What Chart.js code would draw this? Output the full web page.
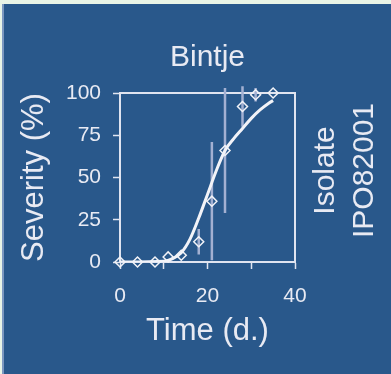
<!DOCTYPE html>
<html>
<head>
<meta charset="utf-8">
<script src="https://cdn.jsdelivr.net/npm/chart.js@4.4.1/dist/chart.umd.min.js"></script>
<style>
  html, body { margin: 0; padding: 0; }
  body { width: 391px; height: 374px; background: #e9f4e6; position: relative; overflow: hidden; }
  #frame { position: absolute; left: 2px; top: 4px; width: 387px; height: 370px; border-left: 2px solid #7c98c0; background: #29588b; }
  #c { display: block; }
</style>
</head>
<body>
<div id="frame"><canvas id="c" width="387" height="370"></canvas></div>
<script>
// observed severity (%) per day, with error bar half-widths
const obsDays = [0, 4, 8, 11, 14, 18, 21, 24, 28, 31, 35];
const obsSeverity = [0, 0, 0, 3, 4, 12, 36, 66, 92, 99, 100];
const obsError = [0, 0, 0, 0, 0, 7.5, 35, 37, 12, 4, 0];

// fitted curve
const fitDays = [0, 10, 12, 14, 16, 18, 20, 22, 24, 26, 28, 30, 32, 34, 35];
const fitSeverity = [0, 0.5, 2, 5.5, 13.5, 26, 40, 54, 66, 73, 79, 85, 90, 94, 95.5];

const xTicks = [0, 20, 40];
const yTicks = [0, 25, 50, 75, 100];

const textColor = '#e8eaf3';
const lineColor = '#f2f3f8';
const barColor = '#a3b0d2';
const family = '"Liberation Sans", Arial, sans-serif';

Chart.defaults.font.family = family;
Chart.defaults.color = textColor;

// error bars as short vertical segments separated by gaps
const errorData = [];
obsDays.forEach((d, i) => {
  if (obsError[i] > 0) {
    errorData.push({ x: d, y: obsSeverity[i] - obsError[i] });
    errorData.push({ x: d, y: obsSeverity[i] + obsError[i] });
    errorData.push({ x: d, y: null });
  }
});

// box round the plot (top and right sides too)
const frameBox = {
  id: 'frameBox',
  beforeDatasetsDraw(chart) {
    const a = chart.chartArea;
    const ctx = chart.ctx;
    ctx.save();
    ctx.strokeStyle = '#e0e4f0';
    ctx.lineWidth = 2;
    ctx.strokeRect(a.left, a.top, a.right - a.left, a.bottom - a.top);
    ctx.restore();
  }
};

// rotated label on the right
const sideLabel = {
  id: 'sideLabel',
  afterDraw(chart) {
    const a = chart.chartArea;
    const ctx = chart.ctx;
    const yc = (a.top + a.bottom) / 2 - 7;
    ctx.save();
    ctx.fillStyle = textColor;
    ctx.font = '30px ' + family;
    ctx.textAlign = 'center';
    ctx.textBaseline = 'alphabetic';
    [['Isolate', 39], ['IPO82001', 77.5]].forEach(([t, dx]) => {
      ctx.save();
      ctx.translate(a.right + dx, yc);
      ctx.rotate(-Math.PI / 2);
      ctx.fillText(t, 0, 0);
      ctx.restore();
    });
    ctx.restore();
  }
};

new Chart(document.getElementById('c'), {
  type: 'line',
  data: {
    datasets: [
      {
        data: obsDays.map((d, i) => ({ x: d, y: obsSeverity[i] })),
        showLine: false,
        pointStyle: 'rectRot',
        pointRadius: 5,
        pointBorderWidth: 1.5,
        borderColor: lineColor,
        pointBackgroundColor: 'rgba(0,0,0,0)',
        clip: false,
        order: 1
      },
      {
        data: fitDays.map((d, i) => ({ x: d, y: fitSeverity[i] })),
        borderColor: lineColor,
        borderWidth: 3,
        pointRadius: 0,
        cubicInterpolationMode: 'monotone',
        order: 2
      },
      {
        data: errorData,
        borderColor: barColor,
        borderWidth: 2.5,
        pointRadius: 0,
        spanGaps: false,
        clip: false,
        order: 3
      }
    ]
  },
  options: {
    responsive: false,
    animation: false,
    events: [],
    layout: { padding: { left: 0, right: 96, top: 0, bottom: 0 } },
    plugins: {
      legend: { display: false },
      tooltip: { enabled: false },
      title: {
        display: true,
        fullSize: false,
        text: 'Bintje',
        color: textColor,
        font: { size: 30, weight: 'normal' },
        padding: { top: 36, bottom: 17 }
      }
    },
    scales: {
      x: {
        type: 'linear',
        min: 0,
        max: 40,
        afterFit: s => { s.height = 112; },
        ticks: {
          stepSize: 10,
          autoSkip: false,
          maxRotation: 0,
          padding: 15,
          font: { size: 21 },
          callback: v => (xTicks.includes(v) ? v : '')
        },
        grid: { drawOnChartArea: false, tickLength: 7, tickColor: '#e0e4f0', tickWidth: 1.5 },
        border: { color: '#e0e4f0', width: 2 },
        title: { display: true, text: 'Time (d.)', font: { size: 31 }, padding: { top: 0, bottom: 24 } }
      },
      y: {
        min: 0,
        max: 100,
        afterFit: s => { s.width = 116; },
        afterBuildTicks: s => { s.ticks = yTicks.map(v => ({ value: v })); },
        ticks: { padding: 12, font: { size: 21 } },
        grid: { drawOnChartArea: false, tickLength: 7, tickColor: '#e0e4f0', tickWidth: 1.5 },
        border: { color: '#e0e4f0', width: 2 },
        title: { display: true, text: 'Severity (%)', font: { size: 31 }, padding: { top: 12, bottom: 0 } }
      }
    }
  },
  plugins: [frameBox, sideLabel]
});
</script>
</body>
</html>
